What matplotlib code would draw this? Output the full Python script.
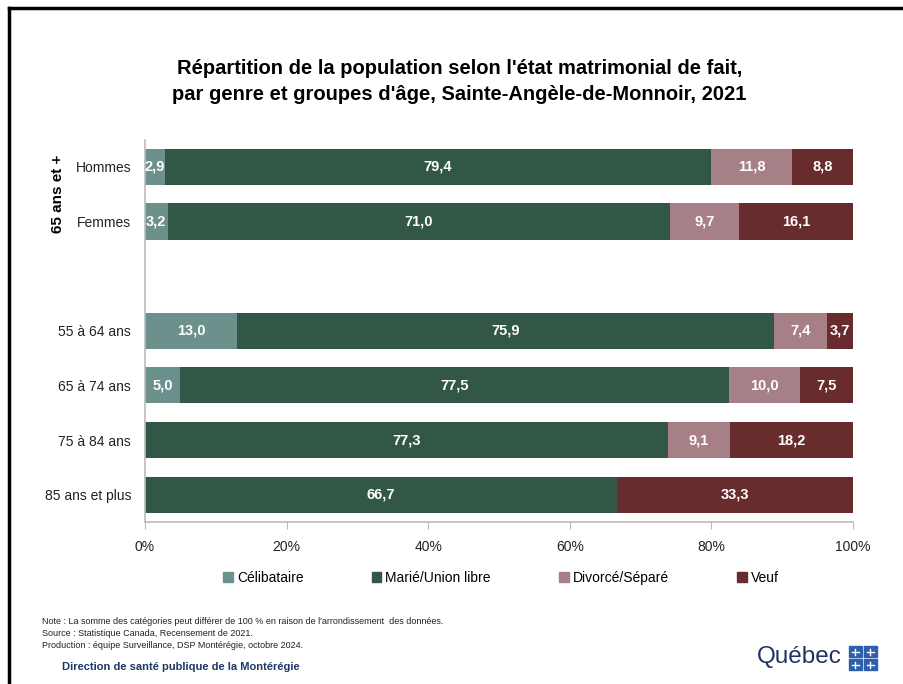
import matplotlib
matplotlib.use("Agg")
import matplotlib.pyplot as plt
from matplotlib.lines import Line2D
from matplotlib.patches import Rectangle
import numpy as np

plt.rcParams['font.family'] = ['Liberation Sans', 'DejaVu Sans']

categories = ['Hommes', 'Femmes', '', '55 à 64 ans', '65 à 74 ans', '75 à 84 ans', '85 ans et plus']
series = ['Célibataire', 'Marié/Union libre', 'Divorcé/Séparé', 'Veuf']
celibataire = [2.9, 3.2, None, 13.0, 5.0, 0.0, 0.0]
marie = [79.4, 71.0, None, 75.9, 77.5, 77.3, 66.7]
divorce = [11.8, 9.7, None, 7.4, 10.0, 9.1, 0.0]
veuf = [8.8, 16.1, None, 3.7, 7.5, 18.2, 33.3]
colors = ['#6C918C', '#335747', '#A68086', '#692C2E']
xticks = [0, 0.2, 0.4, 0.6, 0.8, 1.0]
xticklabels = ['0%', '20%', '40%', '60%', '80%', '100%']

fig = plt.figure(figsize=(9.04, 6.84), dpi=100)
ax = fig.add_axes([0.1604, 0.2368, 0.7832, 0.5592])

data = [celibataire, marie, divorce, veuf]
ypos = np.arange(len(categories))
for i, cat in enumerate(categories):
    vals = [d[i] for d in data]
    if vals[0] is None:
        continue
    total = sum(vals)
    left = 0.0
    for j, v in enumerate(vals):
        w = v / total
        if v > 0:
            ax.barh(i, w, left=left, height=0.66, color=colors[j], edgecolor='none')
            ax.text(left + w / 2, i, f"{v:.1f}".replace('.', ','), ha='center', va='center',
                    color='white', fontsize=10.5, fontweight='bold')
        left += w

handles = [Rectangle((0, 0), 1, 1, color=c) for c in colors]

ax.set_xlim(0, 1)
ax.set_ylim(6.5, -0.5)
ax.set_yticks(ypos)
ax.set_yticklabels(categories, fontsize=10, color='#222222')
ax.tick_params(axis='y', length=0, pad=10)
ax.set_xticks(xticks)
ax.set_xticklabels(xticklabels, fontsize=10, color='#222222')
ax.tick_params(axis='x', length=5, color='#BBBBBB', pad=8)
for s in ['top', 'right']:
    ax.spines[s].set_visible(False)
ax.spines['left'].set_color('#BBBBBB')
ax.spines['bottom'].set_color('#BBBBBB')
ax.spines['left'].set_linewidth(1.2)
ax.spines['bottom'].set_linewidth(1.2)

fig.text(0.064, 1 - 194 / 684, '65 ans et +', rotation=90, ha='center', va='center',
         fontsize=11, fontweight='bold', color='black')

fig.text(0.508, 1 - 68 / 684, "Répartition de la population selon l'état matrimonial de fait,",
         ha='center', va='center', fontsize=14.5, fontweight='bold', color='black')
fig.text(0.508, 1 - 95 / 684, "par genre et groupes d'âge, Sainte-Angèle-de-Monnoir, 2021",
         ha='center', va='center', fontsize=14.5, fontweight='bold', color='black')

fig.legend(handles, series, loc='center', bbox_to_anchor=(501 / 904, 1 - 578 / 684), ncol=4,
           frameon=False, fontsize=10, handlelength=0.7, handleheight=0.7, handletextpad=0.3,
           columnspacing=4.9)

fig.text(42 / 904, 1 - 622 / 684, "Note : La somme des catégories peut différer de 100 % en raison de l'arrondissement  des données.",
         fontsize=6.5, va='center', ha='left', color='#222222')
fig.text(42 / 904, 1 - 634 / 684, "Source : Statistique Canada, Recensement de 2021.",
         fontsize=6.5, va='center', ha='left', color='#222222')
fig.text(42 / 904, 1 - 646 / 684, "Production : équipe Surveillance, DSP Montérégie, octobre 2024.",
         fontsize=6.5, va='center', ha='left', color='#222222')
fig.text(62 / 904, 1 - 667 / 684, "Direction de santé publique de la Montérégie",
         fontsize=8, va='center', ha='left', color='#1F3864', fontweight='bold')

fig.text(757 / 904, 1 - 657 / 684, "Québec", fontsize=17.5, va='center', ha='left', color='#1E3560')
for (x0, y0) in [(849, 646), (864, 646), (849, 659), (864, 659)]:
    fig.add_artist(Rectangle((x0 / 904, 1 - (y0 + 11) / 684), 13 / 904, 11 / 684,
                             transform=fig.transFigure, color='#2E5FAE'))
    cx, cy = (x0 + 6.5) / 904, 1 - (y0 + 5.5) / 684
    fig.add_artist(Line2D([cx - 3.5 / 904, cx + 3.5 / 904], [cy, cy], transform=fig.transFigure, color='white', lw=1))
    fig.add_artist(Line2D([cx, cx], [cy - 3 / 684, cy + 3 / 684], transform=fig.transFigure, color='white', lw=1))

fig.add_artist(Line2D([9 / 904, 1], [1 - 8 / 684, 1 - 8 / 684], transform=fig.transFigure, color='black', lw=2.5))
fig.add_artist(Line2D([9 / 904, 9 / 904], [0, 1 - 8 / 684], transform=fig.transFigure, color='black', lw=2.5))

fig.savefig('out.png', dpi=100, facecolor='white')
